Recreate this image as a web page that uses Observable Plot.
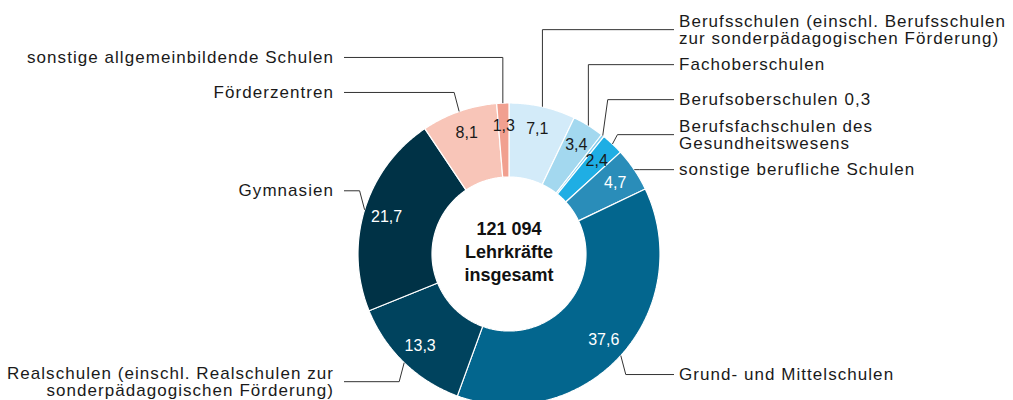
<!DOCTYPE html>
<html><head><meta charset="utf-8">
<script src="https://cdn.jsdelivr.net/npm/d3@7"></script>
<script src="https://cdn.jsdelivr.net/npm/@observablehq/plot@0.6"></script>
<style>
html,body{margin:0;padding:0;background:#fff;}
#chart svg{display:block;}
</style></head><body><div id="chart"></div>
<script>
// ---- data ----
const categories = [
  "Berufsschulen (einschl. Berufsschulen\nzur sonderpädagogischen Förderung)",
  "Fachoberschulen",
  "Berufsoberschulen",
  "Berufsfachschulen des\nGesundheitswesens",
  "sonstige berufliche Schulen",
  "Grund- und Mittelschulen",
  "Realschulen (einschl. Realschulen zur\nsonderpädagogischen Förderung)",
  "Gymnasien",
  "Förderzentren",
  "sonstige allgemeinbildende Schulen"
];
const shares = [7.1, 3.4, 0.3, 2.4, 4.7, 37.6, 13.3, 21.7, 8.1, 1.3];
const totalTeachers = 121094;
const centerWords = ["Lehrkräfte", "insgesamt"];
const colors = ["#d3ebf9","#a3d8ef","#7fcbec","#1faee4","#2a8db9","#03668e","#00435e","#003246","#f8c5b8","#f1a090"];

// ---- layout ----
const W = 1013, H = 400, cx = 508.5, cy = 253.5;
const R = 151, R0 = 77, RL = 128, GAP = 35;
const loc = d3.formatLocale({decimal: ",", thousands: " ", grouping: [3], currency: ["", " €"]});
const fmt1 = loc.format(".1f"), fmtInt = loc.format(",d");

const pie = d3.pie().sort(null).value(d => d)(shares);
const slices = pie.map((p, i) => ({
  i, name: categories[i], value: shares[i], color: colors[i],
  a0: p.startAngle, a1: p.endAngle, mid: (p.startAngle + p.endAngle) / 2
}));
const polar = (r, a) => [r * Math.sin(a), r * Math.cos(a)];
function ring(s) {
  const n = Math.max(2, Math.ceil((s.a1 - s.a0) / (Math.PI / 360)));
  const pts = [];
  for (let k = 0; k <= n; k++) { const [x, y] = polar(R, s.a0 + (s.a1 - s.a0) * k / n); pts.push({x, y}); }
  for (let k = n; k >= 0; k--) { const [x, y] = polar(R0, s.a0 + (s.a1 - s.a0) * k / n); pts.push({x, y}); }
  pts.push(pts[0]);
  return pts;
}

// label placement
const labels = slices.map(s => {
  const [ax, ay] = polar(R, s.mid);
  const side = ax >= 0 ? 1 : -1, upper = ay > 0;
  const rise = (side > 0 && upper) ? 0 : 19 * (upper ? 1 : -1);
  return {...s, ax, ay, side, upper, ly: ay + rise};
});
for (const side of [1, -1]) for (const upper of [true, false]) {
  const g = labels.filter(d => d.side === side && d.upper === upper)
    .sort((a, b) => upper ? a.ay - b.ay : b.ay - a.ay);
  let prev = null;
  for (const d of g) {
    if (prev !== null) d.ly = upper ? Math.max(d.ly, prev + GAP) : Math.min(d.ly, prev - GAP);
    prev = d.ly;
  }
}
const leaders = labels.flatMap(d => {
  const ex = d.ax + (Math.abs(d.ly - d.ay) < 40 ? 5 * d.side : 0);
  return [{k: d.i, x: d.ax, y: d.ay}, {k: d.i, x: ex, y: d.ly}, {k: d.i, x: d.side * (R + 14), y: d.ly}];
});
const labelText = d => d.name + (d.value < 1 ? " " + fmt1(d.value) : "");
const valueLabels = slices.filter(s => s.value >= 1).map(s => {
  const [x, y] = polar(RL, s.mid);
  return {x, y, text: fmt1(s.value), fill: d3.lab(s.color).l > 60 ? "#1a1a1a" : "#ffffff"};
});
const centerText = [fmtInt(totalTeachers), ...centerWords].join("\n");

const chart = Plot.plot({
  width: W, height: H, margin: 0,
  x: {domain: [-cx, W - cx], axis: null},
  y: {domain: [-(H - cy), cy], axis: null},
  color: {type: "identity"},
  style: {fontFamily: "'Liberation Sans', Arial, sans-serif", background: "white", color: "#1a1a1a"},
  marks: [
    ...slices.map(s => Plot.line(ring(s), {x: "x", y: "y", fill: s.color, stroke: "white", strokeWidth: 1.2, strokeLinejoin: "miter"})),
    Plot.line(leaders, {x: "x", y: "y", z: "k", stroke: "#333", strokeWidth: 1, strokeLinejoin: "miter", strokeLinecap: "butt"}),
    Plot.text(labels.filter(d => d.side > 0), {x: d => d.side * (R + 19), y: "ly", text: labelText, textAnchor: "start", lineAnchor: "middle", lineHeight: 1.0, fontSize: 17, fill: "#1a1a1a"}),
    Plot.text(labels.filter(d => d.side < 0), {x: d => d.side * (R + 24), y: "ly", text: labelText, textAnchor: "end", lineAnchor: "middle", lineHeight: 1.0, fontSize: 17, fill: "#1a1a1a"}),
    Plot.text(valueLabels, {x: "x", y: "y", text: "text", fill: "fill", fontSize: 16, lineAnchor: "middle"}),
    Plot.text([centerText], {x: 0, y: 3, text: d => d, fontWeight: "bold", fontSize: 18, lineHeight: 1.28, lineAnchor: "middle", fill: "#111"})
  ]
});
const groups = chart.querySelectorAll('g[aria-label="text"]');
[groups[0], groups[1]].forEach(g => g && g.setAttribute("letter-spacing", "1.05"));
document.getElementById("chart").appendChild(chart);
</script>
</body></html>
